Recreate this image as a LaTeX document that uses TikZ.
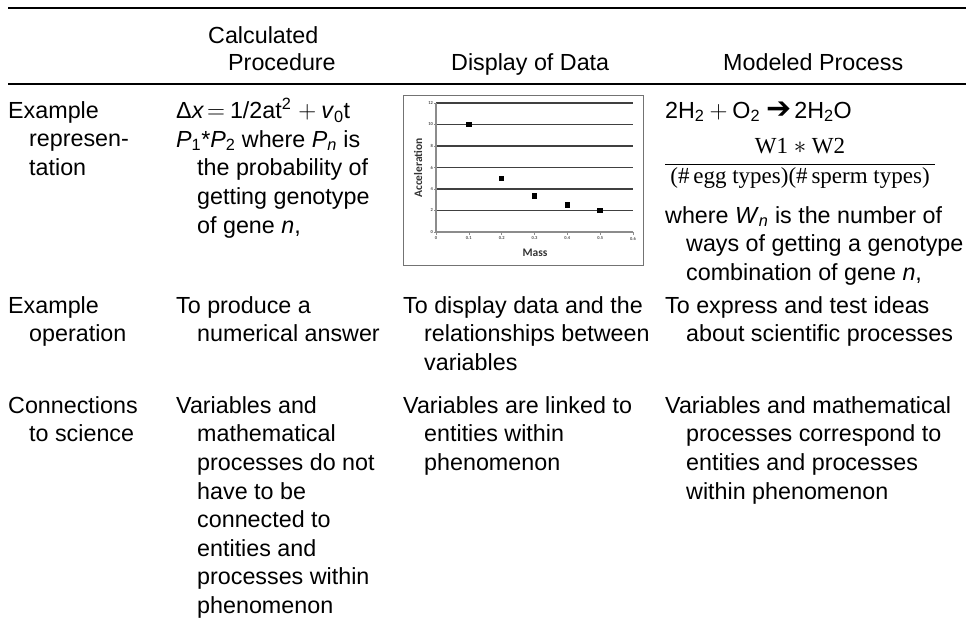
\documentclass[tikz,border=0pt]{standalone}
\usepackage{fontspec}
\setmainfont{Liberation Sans}
\newfontfamily\serifx{Liberation Serif}
\newfontfamily\chartfont{Carlito}
\newfontfamily\symx{DejaVu Sans}
\newcommand\ind{\hspace*{21pt}}
\begin{document}
\begin{tikzpicture}[x=1pt,y=-1pt,
  cell/.style={anchor=north west,inner sep=0pt,align=left,font=\fontsize{23.3}{28.6}\selectfont},
  headc/.style={inner sep=0pt,font=\fontsize{23.3}{28.6}\selectfont},
  rulel/.style={line width=2.6pt},
  fracf/.style={inner sep=0pt,anchor=base,font=\serifx\fontsize{23}{26}\selectfont},
  gridl/.style={draw=black!75,line width=1.2pt},
  axisl/.style={draw=black!45,line width=1.1pt},
  ticklab/.style={inner sep=1pt,font=\chartfont\bfseries\fontsize{4.5}{5}\selectfont,text=black!70},
  ptm/.style={fill=black,draw=none,rectangle,minimum size=5.5pt,inner sep=0pt},
  chartbox/.style={draw=black!55,line width=0.9pt}]
\useasboundingbox (0,0) rectangle (966,629);
% rules
\coordinate (r1a) at (8,8); \coordinate (r1b) at (966,8);
\coordinate (r2a) at (8,84); \coordinate (r2b) at (966,84);
\draw[rulel] (r1a) -- (r1b);
\draw[rulel] (r2a) -- (r2b);
% header
\node[headc,anchor=base west] (h2a) at (208,43) {Calculated};
\node[headc,anchor=base west] (h2b) at (228,70) {Procedure};
\node[headc,anchor=base west] (h3) at (451,70) {Display of Data};
\node[headc,anchor=base west] (h4) at (723,70) {Modeled Process};
% row 1
\node[cell] (c11) at (8,98) {\strut Example\\\ind represen-\\\ind tation};
\node[cell] (c12) at (176,98) {\strut Δ\textit{x}\hspace{3pt}$=$\hspace{5pt}1/2at\textsuperscript{2}\hspace{7pt}$+$\hspace{5pt}\textit{v}\textsubscript{0}t\\\textit{P}\textsubscript{1}*\textit{P}\textsubscript{2} where \textit{P}\textsubscript{\textit{n}} is\\\ind the probability of\\\ind getting genotype\\\ind of gene \textit{n},};
% chart
\draw[chartbox] (403,95) rectangle (643,265);
\begin{scope}[shift={(436,232)},x=328.3pt,y=10.75pt]
  \foreach \v in {2,4,...,12} \draw[gridl] (0,\v) -- (0.6,\v);
  \draw[axisl] (0,0) -- (0.6,0);
  \draw[axisl] (0,0) -- (0,12);
  \foreach \v in {0,2,...,12} {\draw[axisl,line width=0.6pt] (-0.006,\v) -- (0,\v);
    \node[ticklab,anchor=east] at (-0.006,\v) {\v};}
  \foreach \x in {0,0.1,0.2,0.3,0.4,0.5,0.6} {\draw[axisl,line width=0.6pt] (\x,0) -- (\x,-0.25);
    \node[ticklab,anchor=north] at (\x,-0.35) {\x};}
  \node[ptm] (p1) at (0.1,10) {};
  \node[ptm] (p2) at (0.2,5) {};
  \node[ptm] (p3) at (0.3,3.333) {};
  \node[ptm] (p4) at (0.4,2.5) {};
  \node[ptm] (p5) at (0.5,2) {};
\end{scope}
\node[inner sep=0pt,rotate=90,font=\chartfont\bfseries\fontsize{11.5}{12}\selectfont,text=black!80] (ylab) at (418,168) {Acceleration};
\node[inner sep=0pt,font=\chartfont\bfseries\fontsize{11.5}{12}\selectfont,text=black!80] (xlab) at (535,253) {Mass};
% col 4 row 1
\node[cell] (c14) at (665,98) {\strut 2H\textsubscript{2}\hspace{5pt}$+$\hspace{5pt}O\textsubscript{2}\hspace{6pt}{\symx\fontsize{30}{30}\selectfont ➔}\hspace{3pt}2H\textsubscript{2}O};
\node[fracf] (num) at (800,153) {W1 $*$ W2};
\coordinate (fl) at (665,164); \coordinate (fr) at (935,164);
\draw[line width=0.9pt] (fl) -- (fr);
\node[fracf] (den) at (800,183) {(\#\,egg types)(\#\,sperm types)};
\node[cell] (c14b) at (665,203) {\strut where \textit{W}\textsubscript{\textit{n}} is the number of\\\ind ways of getting a genotype\\\ind combination of gene \textit{n},};
% row 2
\node[cell] (c21) at (8,293) {\strut Example\\\ind operation};
\node[cell] (c22) at (176,293) {\strut To produce a\\\ind numerical answer};
\node[cell] (c23) at (403,293) {\strut To display data and the\\\ind relationships between\\\ind variables};
\node[cell] (c24) at (665,293) {\strut To express and test ideas\\\ind about scientific processes};
% row 3
\node[cell] (c31) at (8,393) {\strut Connections\\\ind to science};
\node[cell] (c32) at (176,393) {\strut Variables and\\\ind mathematical\\\ind processes do not\\\ind have to be\\\ind connected to\\\ind entities and\\\ind processes within\\\ind phenomenon};
\node[cell] (c33) at (403,393) {\strut Variables are linked to\\\ind entities within\\\ind phenomenon};
\node[cell] (c34) at (665,393) {\strut Variables and mathematical\\\ind processes correspond to\\\ind entities and processes\\\ind within phenomenon};
\end{tikzpicture}
\end{document}
